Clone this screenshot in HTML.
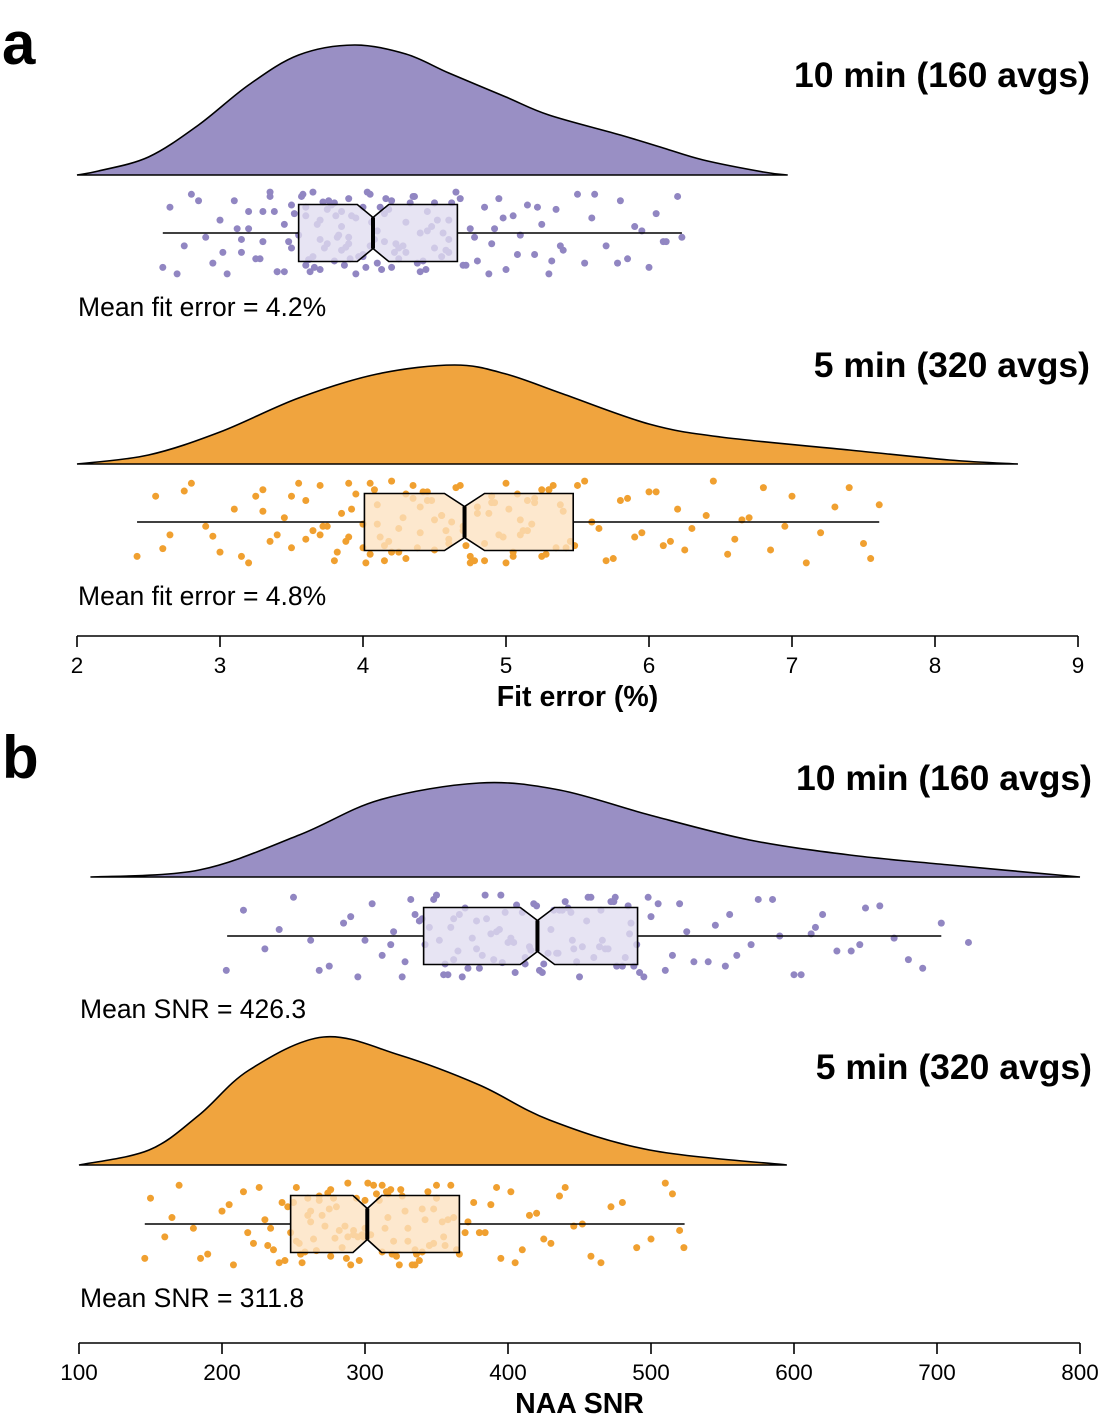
<!DOCTYPE html>
<html><head><meta charset="utf-8"><style>
html,body{margin:0;padding:0;background:#fff;}
svg{display:block;font-family:"Liberation Sans",Arial,sans-serif;}
</style></head><body>
<svg id="chart" width="1102" height="1424" viewBox="0 0 1102 1424" xmlns="http://www.w3.org/2000/svg">
<text x="2" y="64" font-size="60" font-weight="bold">a</text>
<text x="2" y="778" font-size="60" font-weight="bold">b</text>
<g id="plot"></g>
</svg>
<script>
// ---- Panel a data (Fit error %) ----
const densA1X = [2.0,2.15,2.5,2.85,3.2,3.55,3.94,4.3,4.6,5.0,5.3,5.8,6.1,6.38,6.8,6.97];
const densA1Y = [0,4,18,50,90,120,130,121,102,78,60,40,27,15,3,0];
const densA2X = [2.0,2.5,3.0,3.55,4.1,4.64,5.0,5.4,6.0,6.5,7.4,8.1,8.58];
const densA2Y = [0,9,32,66,90,99,90,70,40,27,14,4,0];
const boxA1 = [2.6,3.55,4.07,4.66,6.23];
const boxA2 = [2.42,4.01,4.71,5.47,7.61];
const notchA1 = 0.11, notchA2 = 0.14;
const ptsA1 = [2.6,2.65,2.75,2.8,2.9,2.95,3.0,3.05,3.1,3.15,3.2,3.25,3.3,3.3,3.35,3.4,3.45,3.5,3.5,3.55,3.6,3.6,3.65,3.65,3.7,3.7,3.75,3.75,3.8,3.8,3.85,3.85,3.9,3.9,3.95,3.95,4.0,4.0,4.05,4.05,4.1,4.1,4.15,4.15,4.2,4.2,4.25,4.3,4.3,4.35,4.4,4.4,4.45,4.5,4.5,4.55,4.6,4.6,4.65,4.7,4.75,4.8,4.85,4.9,4.95,5.0,5.05,5.1,5.15,5.2,5.25,5.3,5.35,5.4,5.5,5.55,5.6,5.7,5.8,5.85,5.9,6.0,6.05,6.1,6.2,6.23,3.4,3.2,4.6,4.45,3.62,3.72,3.88,4.02,4.12,4.28,3.58,3.82,4.38,4.52,
  2.7,2.85,3.02,3.12,3.28,3.38,3.48,3.57,3.63,3.68,3.73,3.78,3.83,3.87,3.92,3.97,4.03,4.08,4.13,4.18,4.23,4.33,4.42,4.48,4.58,4.68,4.78,4.88,4.98,5.08,5.22,5.38,5.62,5.78,5.95,6.12,3.52,3.66,3.76,3.91,4.06,4.22,4.36,4.56,3.45,3.85,4.25,4.62,4.0,3.7,3.15,3.35,4.72,4.92,5.32,3.6,3.9,4.16,4.44,3.81];
const ptsA2 = [2.42,2.55,2.65,2.8,2.9,3.0,3.1,3.2,3.3,3.35,3.45,3.5,3.6,3.65,3.7,3.8,3.85,3.9,3.95,4.0,4.05,4.1,4.15,4.2,4.25,4.3,4.35,4.4,4.45,4.5,4.55,4.6,4.65,4.7,4.75,4.8,4.85,4.9,4.95,5.0,5.05,5.1,5.15,5.2,5.25,5.3,5.35,5.4,5.45,5.5,5.6,5.7,5.8,5.9,6.0,6.1,6.2,6.3,6.45,6.55,6.7,6.85,7.0,7.2,7.4,7.55,7.61,4.1,4.3,4.6,4.8,5.0,5.2,3.6,3.9,4.2,4.4,5.1,5.3,4.0,4.55,4.75,4.92,5.12,5.33,3.75,4.15,4.45,6.15,6.65,
  2.6,2.75,2.95,3.15,3.25,3.4,3.55,3.72,3.82,3.92,4.02,4.08,4.18,4.28,4.38,4.48,4.58,4.68,4.78,4.88,4.98,5.08,5.18,5.28,5.38,5.48,5.55,5.65,5.75,5.85,5.95,6.05,6.25,6.4,6.6,6.8,6.95,7.1,7.3,7.5,3.5,3.7,4.05,4.25,4.5,4.7,4.9,5.05,5.25,5.42,3.3,3.88,4.35,4.62,4.85,5.15,4.12,4.42,4.72,5.02];
const ticksA = [2,3,4,5,6,7,8,9];
// ---- Panel b data (NAA SNR) ----
const densB1X = [108,184,254,310,380,436,499,569,639,709,800];
const densB1Y = [0,7,42,77,94,87,62,37,22,12,0];
const densB2X = [100,149,184,219,271,324,380,429,499,595];
const densB2Y = [0,15,50,95,128,110,80,45,15,0];
const boxB1 = [203.6,341,420.6,490.6,703];
const boxB2 = [146,248,301.6,366,523.5];
const notchB1 = 12, notchB2 = 10;
const ptsB1 = [203,215,230,250,262,275,285,295,305,312,320,328,335,342,348,355,360,365,370,375,380,385,390,395,400,405,410,415,420,425,430,435,440,445,450,455,460,465,470,475,480,485,490,500,510,520,530,545,560,575,590,605,620,640,660,680,703,722,350,372,392,412,432,452,472,492,362,402,442,482,345,368,398,428,458,488,338,378,418,448,
  240,268,290,318,332,352,358,366,382,388,396,406,416,422,436,446,456,466,476,486,495,505,515,525,540,555,570,585,600,615,630,650,670,690,340,362,384,404,424,444,464,484,356,394,434,474,300,326,378,412,438,468,498,552,612,646];
const ptsB2 = [146,150,160,170,180,190,200,208,215,222,230,236,242,248,252,256,260,264,268,272,276,280,284,288,292,296,300,304,308,312,316,320,325,330,335,340,345,350,355,360,366,372,380,388,395,402,410,420,430,440,452,465,480,500,515,523,262,282,302,322,342,258,278,298,318,338,246,286,326,356,270,290,310,330,350,255,275,295,315,335,
  165,185,205,218,226,234,240,250,254,262,266,274,279,287,294,299,306,314,319,328,333,344,348,358,364,376,384,392,405,415,425,436,446,458,472,490,510,520,244,268,292,316,340,362,252,276,300,324,348,232,260,288,312,336,354,370];
const ticksB = [100,200,300,400,500,600,700,800];
const jitter = [0.8,-0.6,0.3,-0.9,0.1,0.7,-0.3,0.95,-0.75,0.45,-0.1,0.6,-0.5,0.2,-0.85,0.9,-0.2,0.35,-0.65,0.05,0.75,-0.4,0.55,-0.95,0.15,0.85,-0.55,0.25,-0.7,0.65,-0.15,0.4,-0.8,0.1,0.95,-0.35,0.5,-0.6,0.3,-0.9,0.7,-0.05,0.2,-0.45,0.8,-0.75,0.6,-0.25,0.45,-0.85,0.0,0.9,-0.5,0.35,-0.7,0.55,-0.3,0.15,-0.95,0.75,-0.1,0.65,-0.6,0.25,-0.8,0.85,-0.4,0.05,-0.65,0.5,-0.2,0.95,-0.55,0.4,-0.9,0.7,-0.35,0.3,-0.75,0.6,-0.15,0.8,-0.45,0.2,-0.85,0.1,0.9,-0.5,0.45,-0.05,0.62,-0.72,0.33];

const NS="http://www.w3.org/2000/svg";
const plot=document.getElementById('plot');
function mk(tag,attrs,parent){const e=document.createElementNS(NS,tag);for(const k in attrs)e.setAttribute(k,attrs[k]);(parent||plot).appendChild(e);return e;}
const xA = v => 77 + (v-2)*(1001/7);
const xB = v => 79 + (v-100)*(1001/700);
const PURPLE={dens:'#998fc4',pt:'#9186c2',box:'rgba(224,221,239,0.78)'};
const ORANGE={dens:'#f0a43e',pt:'#f0a030',box:'rgba(252,226,192,0.78)'};

function density(xs,ys,sx,base,col,name){
  const p=xs.map((v,i)=>[sx(v),base-ys[i]]);
  let d=`M${p[0][0]},${base} L${p[0][0]},${p[0][1]}`;
  for(let i=0;i<p.length-1;i++){
    const p0=p[Math.max(0,i-1)],p1=p[i],p2=p[i+1],p3=p[Math.min(p.length-1,i+2)];
    const c1=[p1[0]+(p2[0]-p0[0])/6,p1[1]+(p2[1]-p0[1])/6];
    const c2=[p2[0]-(p3[0]-p1[0])/6,p2[1]-(p3[1]-p1[1])/6];
    d+=` C${c1[0]},${Math.min(c1[1],base)} ${c2[0]},${Math.min(c2[1],base)} ${p2[0]},${p2[1]}`;
  }
  d+=' Z';
  const e=mk('path',{d:d,fill:col.dens,stroke:'#000','stroke-width':1.6});
  
  
}
function points(vals,sx,cy,col,name){
  const g=mk('g',{});
  
  
  vals.forEach((v,i)=>{
    const c=mk('circle',{cx:sx(v),cy:cy+jitter[i%jitter.length]*43,r:3.5,fill:col.pt},g);
    
    
  });
}
function box(b,notch,sx,cy,col,name){
  const g=mk('g',{});
  
  
  const t=cy-28.5,bt=cy+28.5,ins=13;
  mk('line',{x1:sx(b[0]),x2:sx(b[1]),y1:cy,y2:cy,stroke:'#000','stroke-width':1.5},g);
  mk('line',{x1:sx(b[3]),x2:sx(b[4]),y1:cy,y2:cy,stroke:'#000','stroke-width':1.5},g);
  const q1=sx(b[1]),m=sx(b[2]),q3=sx(b[3]),nl=sx(b[2]-notch),nh=sx(b[2]+notch);
  const pts=[[q1,t],[nl,t],[m,t+ins],[nh,t],[q3,t],[q3,bt],[nh,bt],[m,bt-ins],[nl,bt],[q1,bt]];
  mk('polygon',{points:pts.map(p=>p.join(',')).join(' '),fill:col.box,stroke:'#000','stroke-width':1.6},g);
  mk('line',{x1:m,x2:m,y1:t+ins,y2:bt-ins,stroke:'#000','stroke-width':4},g);
}
function axis(ticks,sx,y,title,name){
  const g=mk('g',{});
  
  
  mk('line',{x1:sx(ticks[0]),x2:sx(ticks[ticks.length-1]),y1:y,y2:y,stroke:'#000','stroke-width':1.6},g);
  ticks.forEach(t=>{
    mk('line',{x1:sx(t),x2:sx(t),y1:y,y2:y+11,stroke:'#000','stroke-width':1.6},g);
    const tx=mk('text',{x:sx(t),y:y+37,'font-size':22.5,'text-anchor':'middle'},g);
    tx.textContent=t;
    
    
  });
  const tt=mk('text',{x:(sx(ticks[0])+sx(ticks[ticks.length-1]))/2,y:y+70,'font-size':28.5,'font-weight':'bold','text-anchor':'middle'},g);
  tt.textContent=title;
  
  
}
function label(x,y,txt,size,bold,anchor,name){
  const e=mk('text',{x:x,y:y,'font-size':size,'font-weight':bold?'bold':'normal','text-anchor':anchor});
  e.textContent=txt;
  
  
}
// Panel a
density(densA1X,densA1Y,xA,175,PURPLE,'density-10min-a');
points(ptsA1,xA,233,PURPLE,'points-10min-a');
box(boxA1,notchA1,xA,233,PURPLE,'boxplot-10min-a');
density(densA2X,densA2Y,xA,464,ORANGE,'density-5min-a');
points(ptsA2,xA,522,ORANGE,'points-5min-a');
box(boxA2,notchA2,xA,522,ORANGE,'boxplot-5min-a');
axis(ticksA,xA,636,'Fit error (%)','x-axis-a');
label(1090,87,'10 min (160 avgs)',35.5,true,'end','group-title-10min-a');
label(1090,377,'5 min (320 avgs)',35.5,true,'end','group-title-5min-a');
label(78,316,'Mean fit error = 4.2%',26.5,false,'start','mean-label-10min-a');
label(78,605,'Mean fit error = 4.8%',26.5,false,'start','mean-label-5min-a');
// Panel b
density(densB1X,densB1Y,xB,877,PURPLE,'density-10min-b');
points(ptsB1,xB,936,PURPLE,'points-10min-b');
box(boxB1,notchB1,xB,936,PURPLE,'boxplot-10min-b');
density(densB2X,densB2Y,xB,1165,ORANGE,'density-5min-b');
points(ptsB2,xB,1224,ORANGE,'points-5min-b');
box(boxB2,notchB2,xB,1224,ORANGE,'boxplot-5min-b');
axis(ticksB,xB,1343,'NAA SNR','x-axis-b');
label(1092,790,'10 min (160 avgs)',35.5,true,'end','group-title-10min-b');
label(1092,1079,'5 min (320 avgs)',35.5,true,'end','group-title-5min-b');
label(80,1018,'Mean SNR = 426.3',26.5,false,'start','mean-label-10min-b');
label(80,1307,'Mean SNR = 311.8',26.5,false,'start','mean-label-5min-b');
</script>
</body></html>
